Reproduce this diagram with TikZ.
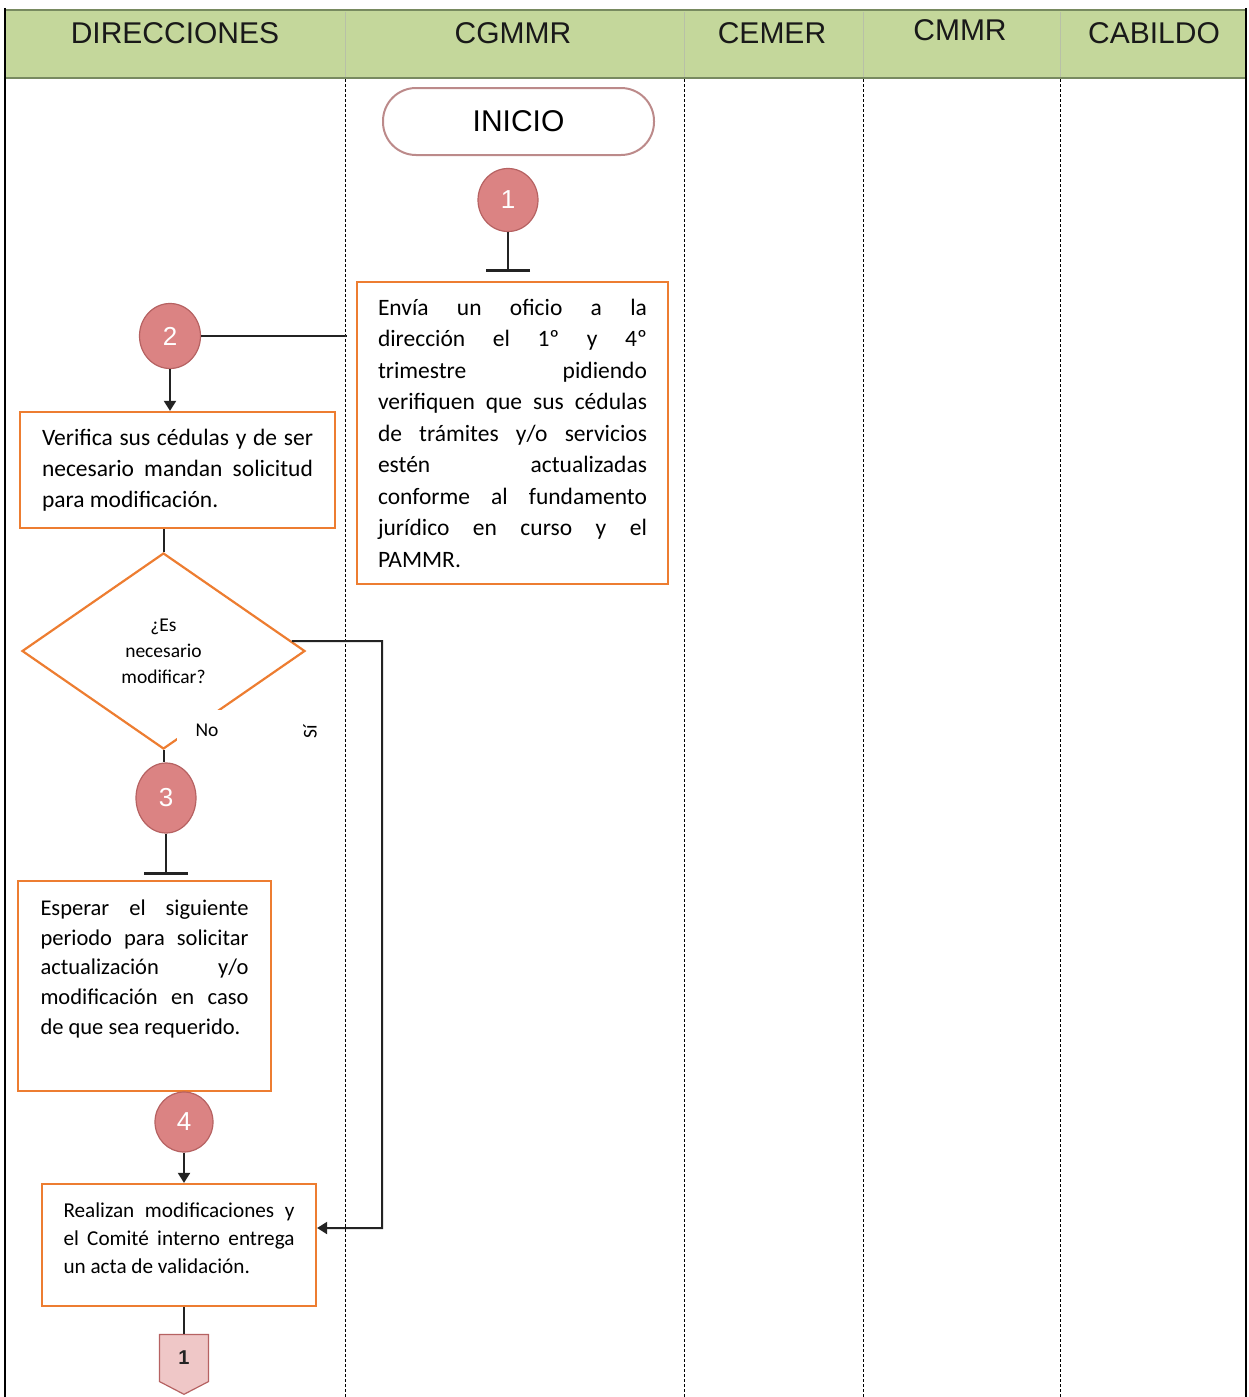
\documentclass[tikz,border=0pt]{standalone}
\usepackage{fontspec}
\setmainfont{Carlito}
\newfontfamily\headfont{Liberation Sans}
\usetikzlibrary{positioning,arrows.meta,shapes.geometric,shapes.symbols,calc}
\definecolor{cabecera}{RGB}{196,215,155}
\definecolor{bordecab}{RGB}{120,138,96}
\definecolor{naranja}{RGB}{237,125,49}
\definecolor{paso}{RGB}{219,131,131}
\definecolor{bordepaso}{RGB}{182,98,98}
\definecolor{inicio}{RGB}{188,138,138}
\definecolor{carril}{RGB}{150,150,150}
\definecolor{linea}{RGB}{35,35,35}

\begin{document}
\begin{tikzpicture}[x=1pt, y=-1pt,
    carril/.style={font=\headfont\fontsize{30}{32}\selectfont, text=black!90},
    caja/.style={draw=naranja, line width=2.2pt, align=justify, inner ysep=0pt,
                 execute at begin node={\tolerance=10000\hyphenpenalty=10000}},
    pasobola/.style={ellipse, draw=bordepaso, line width=1.2pt, fill=paso, text=white, font=\headfont\fontsize{26}{26}\selectfont, inner sep=0pt},
    flecha/.style={-{Triangle[length=10pt,width=12pt]}, line width=2pt, draw=linea},
    tope/.style={-{Bar[width=44pt,line width=2.5pt]}, line width=2pt, draw=linea},
    liso/.style={line width=2pt, draw=linea}
]
    \useasboundingbox (0,0) rectangle (1249,1397);

    % Header
    \fill[cabecera] (5,10) rectangle (1246,78);
    \draw[bordecab, line width=2pt] (5,10) -- (1246,10);
    \draw[bordecab, line width=2pt] (5,78) -- (1246,78);
    \foreach \cx in {345,684,863,1060}{
        \draw[cabecera!70!black!60, line width=0.8pt] (\cx,12) -- (\cx,77);
        \draw[carril, line width=1pt, dash pattern=on 3pt off 2pt] (\cx,79) -- (\cx,1397);
    }
    \draw[carril, line width=2pt] (5,8) -- (5,1397);
    \draw[carril, line width=2pt] (1246,8) -- (1246,1397);

    \node[carril] (hdir) at (175,33) {DIRECCIONES};
    \node[carril] (hcgm) at (513,33) {CGMMR};
    \node[carril] (hcem) at (772,33) {CEMER};
    \node[carril] (hcmm) at (960,30) {CMMR};
    \node[carril] (hcab) at (1154,33) {CABILDO};

    % Inicio
    \node[draw=inicio, line width=2pt, rounded corners=33pt, minimum width=271pt, minimum height=67pt,
          font=\headfont\fontsize{30}{32}\selectfont] (ini) at (518.5,121.5) {INICIO};

    % Paso 1
    \node[pasobola, minimum width=60pt, minimum height=63pt] (c1) at (508,200) {1};
    \node[caja, text width=269pt, inner xsep=21pt, minimum height=302pt,
          font=\fontsize{23.5}{31.5}\selectfont] (b1) at (512.5,433) {%
        Envía un oficio a la\linebreak
        dirección el 1º y 4º\linebreak
        trimestre pidiendo\linebreak
        verifiquen que sus cédulas\linebreak
        de trámites y/o servicios\linebreak
        estén actualizadas\linebreak
        conforme al fundamento\linebreak
        jurídico en curso y el\linebreak
        PAMMR.};

    % Paso 2
    \node[pasobola, minimum width=61pt, minimum height=65pt] (c2) at (170,336) {2};
    \node[caja, text width=271pt, inner xsep=22pt, minimum height=116pt,
          font=\fontsize{23.5}{31}\selectfont] (b2) at (177.5,470) {%
        Verifica sus cédulas y de ser\linebreak
        necesario mandan solicitud\linebreak
        para modificación.};

    % Decision
    \node[diamond, draw=naranja, line width=2.2pt, minimum width=283pt, minimum height=196pt,
          inner sep=0pt, align=center, font=\fontsize{19.5}{26}\selectfont] (dec) at (163.5,651)
          {¿Es\\necesario\\modificar?};
    \coordinate (giro) at (382,641);

    % Paso 3
    \node[pasobola, minimum width=60pt, minimum height=70pt] (c3) at (166,798) {3};
    \node[caja, text width=208pt, inner xsep=22.5pt, minimum height=210pt,
          font=\fontsize{22.5}{29.7}\selectfont] (b3) at (144.5,986) {%
        Esperar el siguiente\linebreak
        periodo para solicitar\linebreak
        actualización y/o\linebreak
        modificación en caso\linebreak
        de que sea requerido.\\[8pt]\mbox{}};

    % Paso 4
    \node[pasobola, minimum width=58pt, minimum height=60pt] (c4) at (184,1122) {4};
    \node[caja, text width=231pt, inner xsep=21.5pt, minimum height=122pt,
          font=\fontsize{21.2}{28}\selectfont] (b5) at (179,1245) {%
        Realizan modificaciones y\linebreak
        el Comité interno entrega\linebreak
        un acta de validación.\\[-14pt]\mbox{}};

    % Conector fuera de pagina
    \node[signal, signal to=south, signal pointer angle=125, draw=bordepaso, line width=1.2pt,
          fill=paso!45, minimum width=49pt, minimum height=50pt, inner sep=0pt,
          font=\headfont\bfseries\fontsize{20}{20}\selectfont, text=linea] (fin) at (184,1358) {1};

    % Connectors
    \draw[tope, shorten >=9pt] (c1) -- (c1 |- b1.north);
    \draw[liso, shorten >=9pt] (c2.east) -- (c2 -| b1.west);
    \draw[flecha] (c2) -- (c2 |- b2.north);
    \draw[liso] (dec.north |- b2.south) -- (dec.north);
    \draw[liso] (dec.south) -- (dec.south |- c3.north);
    \draw[tope, shorten >=5pt] (c3) -- (c3 |- b3.north);
    \draw[flecha] (c4) -- (c4 |- b5.north);
    \draw[liso] (fin.north |- b5.south) -- (fin.north);
    \draw[flecha] ($(dec.north)!0.9!(dec.east)$) -- (giro) |- ([yshift=17pt]b5.east);

    % Etiquetas
    \node[fill=white, minimum width=60pt, minimum height=40pt, inner sep=0pt,
          font=\fontsize{19.5}{20}\selectfont] (eno) at (207,730) {No};
    \node[rotate=90, font=\fontsize{19.5}{20}\selectfont] (esi) at (310,732) {Sí};
\end{tikzpicture}
\end{document}
